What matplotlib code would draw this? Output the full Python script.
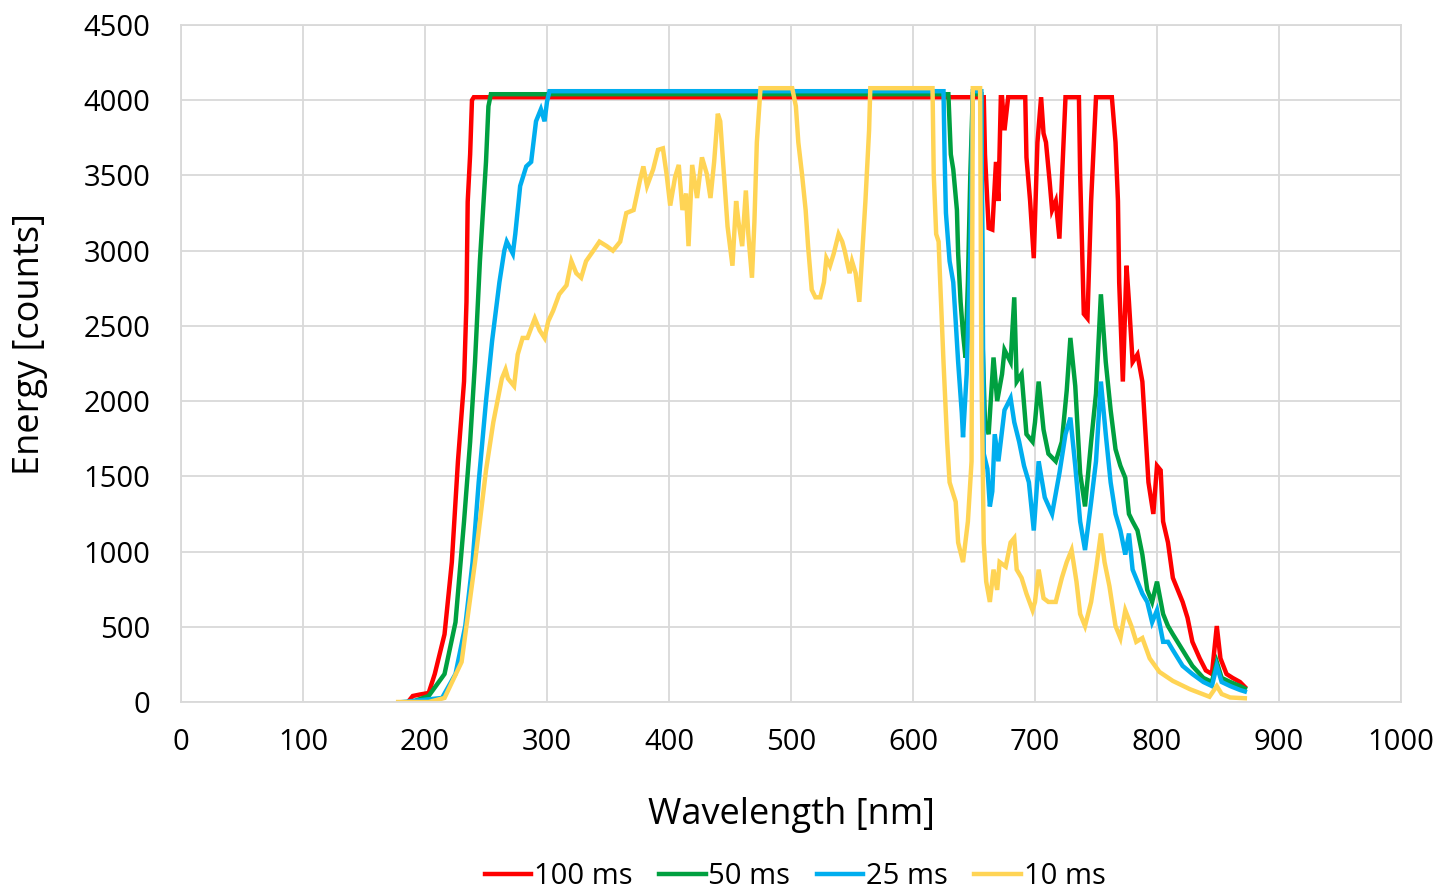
import matplotlib
matplotlib.use("Agg")
import matplotlib.pyplot as plt

plt.rcParams['font.family'] = ['Open Sans', 'DejaVu Sans']

# ---------------- data ----------------
wl_100 = [186, 190, 196, 203, 208, 216, 222, 227, 232, 234, 235, 237, 238.5, 240,
          658, 659, 662, 665, 668, 670, 672, 673, 675, 678, 692, 693, 696, 699, 702,
          705, 707, 709, 712, 714, 717, 720, 722, 725, 736, 737, 740, 743, 746, 750,
          763, 766, 768, 769, 772, 775, 777, 780, 784, 788, 791, 793, 797, 800, 803,
          805, 809, 813, 817, 821, 825, 829, 835, 840, 845, 849, 852, 857, 862, 868, 872]
en_100 = [0, 40, 50, 60, 186, 450, 930, 1600, 2130, 2660, 3325, 3640, 4000, 4020,
          4020, 3640, 3150, 3140, 3590, 3330, 4020, 4020, 3800, 4020, 4020, 3620, 3330, 2950, 3720,
          4020, 3780, 3720, 3460, 3270, 3330, 3080, 3460, 4020, 4020, 3510, 2580, 2550, 3330, 4020,
          4020, 3720, 3330, 2790, 2130, 2900, 2660, 2260, 2310, 2130, 1730, 1460, 1250, 1570, 1540,
          1200, 1060, 825, 745, 665, 560, 400, 290, 210, 186, 505, 290, 186, 160, 133, 100]

wl_50 = [189, 203, 216, 225, 232, 237, 241, 245, 250, 252, 254,
         629, 631, 633, 636, 637, 639, 641, 643, 645, 647, 649, 656, 657, 659, 662, 666,
         669, 673, 675, 680, 683, 685, 689, 693, 698, 700, 703, 707, 711, 717, 722, 726,
         729, 733, 737, 741, 746, 750, 754, 758, 762, 766, 770, 774, 777, 780, 784, 788,
         792, 796, 800, 805, 809, 813, 821, 829, 838, 845, 849, 853, 860, 868, 872]
en_50 = [0, 40, 186, 530, 1200, 1730, 2260, 2930, 3590, 3960, 4040,
         4040, 3640, 3540, 3270, 2980, 2660, 2450, 2290, 2790, 3510, 4040, 4040, 2400, 1860, 1780, 2290,
         2000, 2180, 2340, 2260, 2690, 2130, 2180, 1780, 1730, 1860, 2130, 1810, 1650, 1600, 1730, 2070,
         2420, 2100, 1520, 1300, 1730, 2050, 2710, 2260, 1940, 1680, 1570, 1490, 1250, 1200, 1140, 980,
         745, 665, 800, 585, 505, 450, 345, 240, 160, 133, 266, 160, 133, 106, 90]

wl_25 = [182, 214, 225, 233, 239, 244, 250, 255, 261, 265, 267, 272, 274, 278, 283, 287,
         291, 295, 298, 300, 302,
         625, 626, 627, 630, 633, 635, 637, 640, 641, 644, 647, 649, 656, 658, 661, 663,
         665, 667, 670, 675, 680, 683, 687, 691, 695, 699, 703, 708, 714, 720, 725, 729,
         733, 737, 741, 746, 750, 754, 758, 762, 766, 770, 774, 777, 780, 784, 788, 792,
         796, 800, 805, 809, 813, 821, 829, 838, 845, 849, 853, 860, 868, 872]
en_25 = [0, 27, 186, 505, 930, 1460, 2000, 2400, 2790, 3000, 3060, 2980, 3110, 3430, 3560, 3590,
         3860, 3940, 3860, 3990, 4060,
         4060, 3590, 3250, 2930, 2790, 2530, 2260, 1920, 1760, 2180, 3000, 4060, 4060, 1650, 1550, 1300,
         1400, 1780, 1600, 1940, 2020, 1860, 1730, 1570, 1460, 1140, 1600, 1360, 1250, 1520, 1780, 1890,
         1570, 1200, 1010, 1330, 1600, 2130, 1780, 1460, 1250, 1140, 980, 1120, 880, 800, 720, 665,
         530, 610, 400, 400, 345, 240, 186, 133, 106, 240, 133, 106, 80, 70]

wl_10 = [178, 203, 216, 230, 241, 250, 256, 263, 266, 268, 273, 276, 280, 284, 290, 294,
         298, 301, 305, 310, 316, 320, 324, 328, 332, 338, 343, 349, 354, 360, 365, 371,
         376, 379, 382, 387, 391, 395, 398, 401, 405, 408, 411, 414, 416, 419, 423, 427,
         431, 434, 437, 440, 442, 445, 448, 452, 455, 457, 460, 463, 465, 468, 470, 472,
         475, 501, 504, 506, 509, 512, 514, 517, 520, 524, 527, 529, 532, 535, 539, 542,
         544, 548, 550, 553, 556, 558, 561, 564, 565, 616, 617, 619, 621, 622, 625, 628,
         630, 635, 637, 641, 645, 648, 649, 655, 656, 658, 660, 663, 666, 669, 671, 676,
         680, 683, 685, 689, 693, 698, 700, 703, 707, 711, 717, 722, 726, 730, 734, 737,
         741, 746, 750, 754, 757, 761, 766, 770, 774, 779, 783, 788, 794, 802, 813, 827,
         835, 843, 849, 853, 860, 868, 872]
en_10 = [0, 0, 27, 266, 930, 1540, 1860, 2150, 2210, 2150, 2100, 2310, 2420, 2420, 2550, 2470,
         2420, 2530, 2600, 2710, 2770, 2930, 2850, 2820, 2930, 3000, 3060, 3030, 3000, 3060, 3250, 3270,
         3460, 3560, 3430, 3540, 3670, 3680, 3510, 3300, 3490, 3570, 3270, 3380, 3030, 3570, 3350, 3620,
         3510, 3350, 3590, 3910, 3860, 3510, 3160, 2900, 3330, 3190, 3030, 3400, 3110, 2820, 3190, 3720,
         4080, 4080, 3960, 3720, 3510, 3270, 3030, 2740, 2690, 2690, 2790, 2950, 2900, 2980, 3110, 3060,
         3000, 2850, 2930, 2850, 2660, 2930, 3330, 3800, 4080, 4080, 3510, 3110, 3060, 2850, 2260, 1730,
         1460, 1330, 1060, 930, 1200, 1600, 4080, 4080, 2260, 1060, 800, 665, 880, 745, 930, 900,
         1060, 1090, 880, 825, 720, 610, 665, 880, 690, 665, 665, 825, 930, 1010, 800, 585,
         505, 665, 880, 1120, 930, 770, 505, 425, 610, 505, 400, 425, 290, 200, 140, 85,
         60, 35, 106, 53, 30, 27, 25]

series_labels = ['100 ms', '50 ms', '25 ms', '10 ms']
series_colors = ['#FF0000', '#00A040', '#00AEEF', '#FFD455']
x_ticks = list(range(0, 1001, 100))
y_ticks = list(range(0, 4501, 500))

# ---------------- figure ----------------
fig = plt.figure(figsize=(14.51, 8.92), dpi=100)
ax = fig.add_axes([181/1451, 190/892, 1220/1451, 677/892])

for wl, en, lab, col in zip([wl_100, wl_50, wl_25, wl_10],
                            [en_100, en_50, en_25, en_10],
                            series_labels, series_colors):
    ax.plot(wl, en, color=col, lw=3.2, label=lab, solid_joinstyle='miter')

ax.set_xlim(0, 1000)
ax.set_ylim(0, 4500)
ax.set_xticks(x_ticks)
ax.set_yticks(y_ticks)
ax.grid(True, color='#D9D9D9', lw=1.3)
ax.set_axisbelow(True)
for s in ax.spines.values():
    s.set_color('#D9D9D9')
    s.set_linewidth(1.3)
ax.tick_params(axis='both', length=0, labelsize=21, colors='black')
ax.tick_params(axis='x', pad=19)
ax.tick_params(axis='y', pad=22)

ax.set_xlabel('Wavelength [nm]', fontsize=26)
ax.set_ylabel('Energy [counts]', fontsize=26)
ax.xaxis.set_label_coords(0.5, -0.167)
ax.yaxis.set_label_coords(-0.124, 0.529)
ax.xaxis.label.set_va('center')
ax.yaxis.label.set_va('center')

fig.legend(loc='center', bbox_to_anchor=(795/1451, 1 - 877/892), ncol=4,
           frameon=False, fontsize=21, handlelength=1.6, handletextpad=0.1,
           columnspacing=0.9, borderaxespad=0)

fig.savefig('out.png', dpi=100)
